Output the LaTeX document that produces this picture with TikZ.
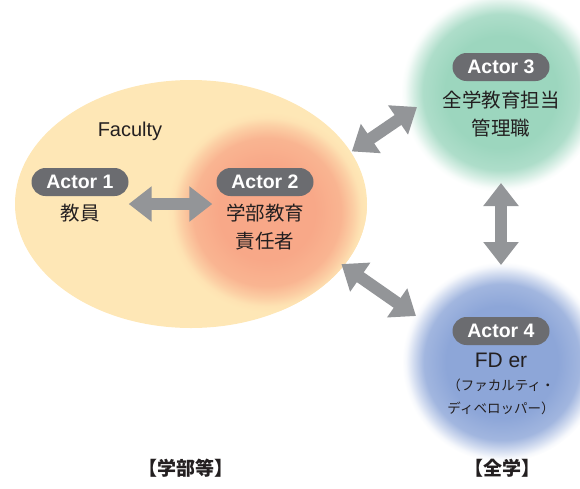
\documentclass[tikz,border=0pt]{standalone}
\usepackage{fontspec}
\setmainfont{Liberation Sans}
\newfontfamily\jp{Noto Sans CJK JP}
\usetikzlibrary{shapes.geometric,arrows.meta,calc}
\definecolor{facyellow}{HTML}{FEE7B6}
\definecolor{orcore}{HTML}{F8A888}
\definecolor{grcore}{HTML}{9CD6BE}
\definecolor{blcore}{HTML}{8DA6D8}
\definecolor{pillgray}{HTML}{6B6C70}
\definecolor{arrgray}{HTML}{939598}
\definecolor{ink}{HTML}{231F20}
\pgfdeclareradialshading{glowor}{\pgfpoint{0bp}{0bp}}{color(0bp)=(orcore);color(12bp)=(orcore);color(18.5bp)=(orcore!80!facyellow);color(21.5bp)=(orcore!40!facyellow);color(23.5bp)=(orcore!8!facyellow);color(25bp)=(facyellow);color(50bp)=(facyellow)}
\pgfdeclareradialshading{glowgr}{\pgfpoint{0bp}{0bp}}{color(0bp)=(grcore);color(14bp)=(grcore);color(19.5bp)=(grcore!82!white);color(22bp)=(grcore!42!white);color(24bp)=(grcore!8!white);color(25bp)=(white);color(50bp)=(white)}
\pgfdeclareradialshading{glowbl}{\pgfpoint{0bp}{0bp}}{color(0bp)=(blcore);color(14bp)=(blcore);color(19.5bp)=(blcore!82!white);color(22bp)=(blcore!42!white);color(24bp)=(blcore!8!white);color(25bp)=(white);color(50bp)=(white)}
\tikzset{
  pill/.style={fill=pillgray, rounded corners=14pt, minimum width=97pt, minimum height=28pt, inner sep=0pt, text=white, font=\fontsize{19.5}{22}\selectfont\bfseries},
  jtext/.style={text=ink, font=\jp\fontsize{19.5}{28}\selectfont, align=center, inner sep=0pt},
  small/.style={text=ink, font=\jp\fontsize{13.5}{23}\selectfont, align=center, inner sep=0pt},
  dbl/.style={draw=arrgray, line width=12pt, {Triangle[length=23pt,width=34pt]}-{Triangle[length=23pt,width=34pt]}},
  glow/.style={circle, draw=none, inner sep=0pt, minimum size=200pt}
}
\begin{document}
\begin{tikzpicture}[x=1pt,y=-1pt]
\useasboundingbox (0,0) rectangle (580,488);
% faculty ellipse
\node[ellipse, fill=facyellow, minimum width=352pt, minimum height=248pt, inner sep=0pt] (fac) at (191,204) {};
\begin{scope}
  \clip (191,204) ellipse [x radius=176, y radius=124];
  \node[glow, shading=glowor] (g2) at (267,212) {};
\end{scope}
\node[glow, shading=glowgr] (g3) at (501,92) {};
\node[glow, shading=glowbl] (g4) at (502,362) {};
\node[text=ink, font=\fontsize{20}{24}\selectfont, inner sep=0pt] (facl) at (130,131) {Faculty};
% actors
\node[pill] (a1) at (80,182) {Actor 1};
\node[jtext] (t1) at (80,213) {教員};
\node[pill] (a2) at (265,182) {Actor 2};
\node[jtext] (t2) at (265,227) {学部教育\\責任者};
\node[pill] (a3) at (501,67) {Actor 3};
\node[jtext] (t3) at (501,114) {全学教育担当\\管理職};
\node[pill] (a4) at (501,331) {Actor 4};
\node[text=ink, font=\fontsize{21}{24}\selectfont, inner sep=0pt] (t4) at (501,360) {FD er};
\node[small] (t4b) at (501,396.5) {（ファカルティ・\\ディベロッパー）};
% bottom labels
\node[jtext, font=\jp\bfseries\fontsize{19}{22}\selectfont] (lb1) at (186,468) {【学部等】};
\node[jtext, font=\jp\bfseries\fontsize{19}{22}\selectfont] (lb2) at (502,468) {【全学】};
% arrows
\draw[dbl] ([yshift=-22pt]a1.east) -- ([yshift=-22pt,xshift=-4pt]a2.west);
\draw[dbl, shorten <=1pt] (fac.18) -- ($(g3.center)+(-84,15)$);
\draw[dbl, shorten <=-3pt] (fac.-22) -- ($(g4.center)+(-86,-46)$);
\draw[dbl, shorten <=91pt, shorten >=97pt] (g3.center) -- (g3.center |- g4.center);
\end{tikzpicture}
\end{document}
